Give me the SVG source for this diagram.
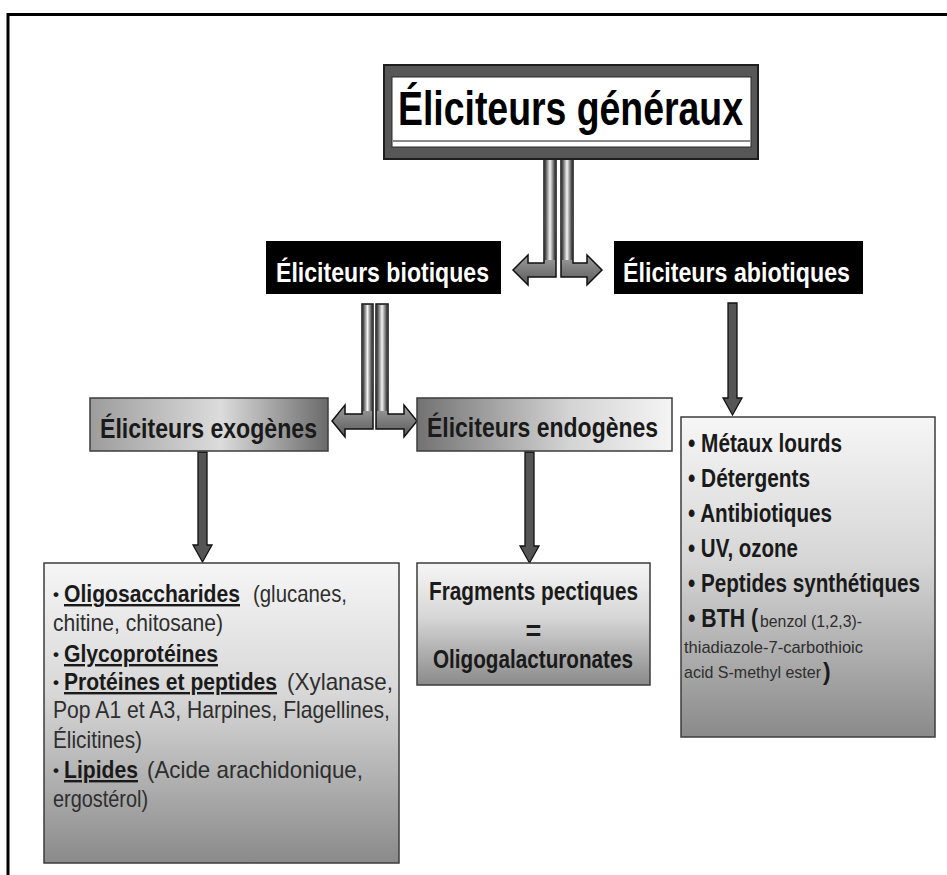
<svg xmlns="http://www.w3.org/2000/svg" width="947" height="875" viewBox="0 0 947 875">
<defs>
<linearGradient id="gExo" x1="0" y1="0" x2="1" y2="0">
<stop offset="0" stop-color="#9c9c9c"/><stop offset="0.55" stop-color="#dcdcdc"/><stop offset="1" stop-color="#6a6a6a"/>
</linearGradient>
<linearGradient id="gEndo" x1="0" y1="0" x2="1" y2="0">
<stop offset="0" stop-color="#727272"/><stop offset="0.6" stop-color="#d4d4d4"/><stop offset="1" stop-color="#f4f4f4"/>
</linearGradient>
<linearGradient id="gBox" x1="0" y1="0" x2="0" y2="1">
<stop offset="0" stop-color="#f6f6f6"/><stop offset="0.45" stop-color="#d6d6d6"/><stop offset="1" stop-color="#8a8a8a"/>
</linearGradient>
<linearGradient id="gPipeV" x1="0" y1="0" x2="1" y2="0">
<stop offset="0" stop-color="#3a3a3a"/><stop offset="0.5" stop-color="#f4f4f4"/><stop offset="1" stop-color="#3a3a3a"/>
</linearGradient>
<linearGradient id="gPipeH" x1="0" y1="0" x2="0" y2="1">
<stop offset="0" stop-color="#b0b0b0"/><stop offset="0.5" stop-color="#e6e6e6"/><stop offset="1" stop-color="#5a5a5a"/>
</linearGradient>
<style>
.f{font-family:"Liberation Sans",Arial,sans-serif}
.b{font-weight:bold}
.u{text-decoration:underline}
.frame{stroke:#000;stroke-width:3;fill:none}
.box{stroke:#3c3c3c;stroke-width:1.5}
.pipe{fill:url(#gPipeH);stroke:#111;stroke-width:1.5;stroke-linejoin:miter}
.hl{fill:url(#gPipeV)}
.arr{fill:#555;stroke:#111;stroke-width:1.3}
.txt{fill:#1a1a1a}
.reg{fill:#2e2e2e}
</style>
</defs>
<rect x="0" y="0" width="947" height="875" fill="#ffffff"/>
<path class="frame" d="M947,14.5 H8 V875"/>

<g id="connectors">
  <path class="pipe" d="M556,159 L556,277 L528,277 L528,285 L513,270 L528,255 L528,263 L544,263 L544,159 Z"/>
  <path class="pipe" d="M561,159 L561,277 L587,277 L587,285 L602,270 L587,255 L587,263 L573,263 L573,159 Z"/>
  <rect class="hl" x="545" y="160" width="10" height="100"/>
  <rect class="hl" x="562" y="160" width="10" height="100"/>
  <path class="pipe" d="M373,304 L373,429 L345,429 L345,437 L332,421 L345,405 L345,414 L362,414 L362,304 Z"/>
  <path class="pipe" d="M376,304 L376,429 L404,429 L404,437 L417,421 L404,405 L404,414 L388,414 L388,304 Z"/>
  <rect class="hl" x="363" y="305" width="9" height="106"/>
  <rect class="hl" x="377" y="305" width="10" height="106"/>
  <path class="arr" d="M198,452 L207,452 L207,545 L212,545 L202.5,562 L193,545 L198,545 Z"/>
  <path class="arr" d="M525,452 L534,452 L534,546 L539,546 L529.5,563 L520,546 L525,546 Z"/>
  <path class="arr" d="M728,303 L737,303 L737,398 L742,398 L732.5,415 L723,398 L728,398 Z"/>
</g>

<g id="n-generaux">
  <rect x="384" y="65" width="374" height="94" fill="#575757" stroke="#1e1e1e" stroke-width="2"/>
  <rect x="392" y="77" width="359" height="70" fill="#ffffff" stroke="#2a2a2a" stroke-width="1"/>
  <line x1="393" y1="141" x2="750" y2="141" stroke="#8a8a8a" stroke-width="2"/>
  <text class="f b" x="398" y="125" font-size="48" fill="#000" textLength="345" lengthAdjust="spacingAndGlyphs">Éliciteurs généraux</text>
</g>

<g id="n-biotiques">
  <rect x="266" y="241" width="235" height="53" fill="#000"/>
  <text class="f b" x="276" y="282" font-size="28" fill="#fff" textLength="213" lengthAdjust="spacingAndGlyphs">Éliciteurs biotiques</text>
</g>

<g id="n-abiotiques">
  <rect x="614" y="241" width="249" height="53" fill="#000"/>
  <text class="f b" x="623" y="282" font-size="28" fill="#fff" textLength="227" lengthAdjust="spacingAndGlyphs">Éliciteurs abiotiques</text>
</g>

<g id="n-exogenes">
  <rect class="box" x="90" y="398" width="238" height="53" fill="url(#gExo)"/>
  <text class="f b txt" x="100" y="438" font-size="28" textLength="217" lengthAdjust="spacingAndGlyphs">Éliciteurs exogènes</text>
</g>

<g id="n-endogenes">
  <rect class="box" x="417" y="398" width="255" height="53" fill="url(#gEndo)"/>
  <text class="f b txt" x="427" y="437" font-size="28" textLength="231" lengthAdjust="spacingAndGlyphs">Éliciteurs endogènes</text>
</g>

<g id="n-exo-list">
  <rect class="box" x="44" y="563" width="355" height="300" fill="url(#gBox)"/>
  <text class="f b txt" font-size="17" x="53" y="600">•</text>
  <text class="f b u txt" font-size="24" x="64" y="602" textLength="176" lengthAdjust="spacingAndGlyphs">Oligosaccharides</text>
  <text class="f reg" font-size="24" x="253" y="602" textLength="94" lengthAdjust="spacingAndGlyphs">(glucanes,</text>
  <text class="f reg" font-size="24" x="53" y="631" textLength="170" lengthAdjust="spacingAndGlyphs">chitine, chitosane)</text>
  <text class="f b txt" font-size="17" x="53" y="660">•</text>
  <text class="f b u txt" font-size="24" x="64" y="662" textLength="154" lengthAdjust="spacingAndGlyphs">Glycoprotéines</text>
  <text class="f b txt" font-size="17" x="53" y="688">•</text>
  <text class="f b u txt" font-size="24" x="64" y="690" textLength="213" lengthAdjust="spacingAndGlyphs">Protéines et peptides</text>
  <text class="f reg" font-size="24" x="287" y="690" textLength="106" lengthAdjust="spacingAndGlyphs">(Xylanase,</text>
  <text class="f reg" font-size="24" x="53" y="718" textLength="337" lengthAdjust="spacingAndGlyphs">Pop A1 et A3, Harpines, Flagellines,</text>
  <text class="f reg" font-size="24" x="53" y="748" textLength="89" lengthAdjust="spacingAndGlyphs">Élicitines)</text>
  <text class="f b txt" font-size="17" x="53" y="776">•</text>
  <text class="f b u txt" font-size="24" x="64" y="778" textLength="74" lengthAdjust="spacingAndGlyphs">Lipides</text>
  <text class="f reg" font-size="24" x="147" y="778" textLength="216" lengthAdjust="spacingAndGlyphs">(Acide arachidonique,</text>
  <text class="f reg" font-size="24" x="53" y="807" textLength="95" lengthAdjust="spacingAndGlyphs">ergostérol)</text>
</g>

<g id="n-pectiques">
  <rect class="box" x="417" y="563" width="233" height="122" fill="url(#gBox)"/>
  <text class="f b txt" x="429" y="600" font-size="25" textLength="209" lengthAdjust="spacingAndGlyphs">Fragments pectiques</text>
  <text class="f b txt" x="533.5" y="640" font-size="27" text-anchor="middle">=</text>
  <text class="f b txt" x="433" y="668" font-size="25" textLength="200" lengthAdjust="spacingAndGlyphs">Oligogalacturonates</text>
</g>

<g id="n-abiotic-list">
  <rect class="box" x="681" y="417" width="254" height="320" fill="url(#gBox)"/>
  <text class="f b txt" font-size="25" x="688" y="452" textLength="154" lengthAdjust="spacingAndGlyphs">• Métaux lourds</text>
  <text class="f b txt" font-size="25" x="688" y="487" textLength="122" lengthAdjust="spacingAndGlyphs">• Détergents</text>
  <text class="f b txt" font-size="25" x="688" y="522" textLength="144" lengthAdjust="spacingAndGlyphs">• Antibiotiques</text>
  <text class="f b txt" font-size="25" x="688" y="557" textLength="110" lengthAdjust="spacingAndGlyphs">• UV, ozone</text>
  <text class="f b txt" font-size="25" x="688" y="592" textLength="232" lengthAdjust="spacingAndGlyphs">• Peptides synthétiques</text>
  <text class="f b txt" font-size="25" x="688" y="627" textLength="70" lengthAdjust="spacingAndGlyphs">• BTH (</text>
  <text class="f reg" font-size="17" x="760" y="627" textLength="102" lengthAdjust="spacingAndGlyphs">benzol (1,2,3)-</text>
  <text class="f reg" font-size="17" x="684" y="653" textLength="179" lengthAdjust="spacingAndGlyphs">thiadiazole-7-carbothioic</text>
  <text class="f reg" font-size="17" x="684" y="678" textLength="137" lengthAdjust="spacingAndGlyphs">acid S-methyl ester</text>
  <text class="f b txt" font-size="23" x="823" y="680">)</text>
</g>
</svg>
